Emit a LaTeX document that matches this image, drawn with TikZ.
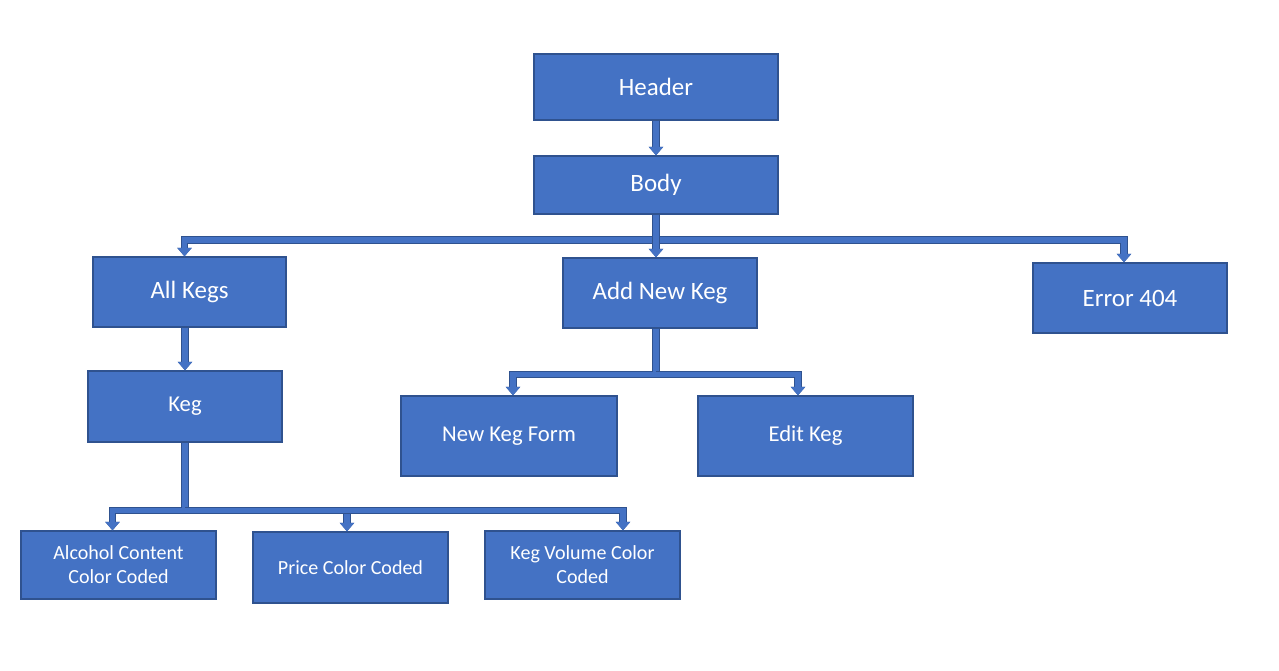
\documentclass[tikz,border=0pt]{standalone}
\usepackage{fontspec}
\setmainfont{Carlito}
\usetikzlibrary{arrows.meta}
\definecolor{boxblue}{HTML}{4472C4}
\definecolor{boxedge}{HTML}{2F528F}
\begin{document}
\begin{tikzpicture}[x=0.02cm, y=-0.02cm,
    box/.style={rectangle, draw=boxedge, line width=0.7pt, fill=boxblue, text=white, align=center, inner sep=2pt},
    big/.style={box, font=\fontsize{14.2}{17}\selectfont},
    mid/.style={box, font=\fontsize{12.9}{15.5}\selectfont},
    small/.style={box, font=\fontsize{11.4}{13.6}\selectfont, minimum width=3.9cm},
    conn/.style={draw=boxblue, line width=0.11cm, line join=miter,
        -{Triangle[width=0.28cm, length=0.17cm]},
        preaction={draw=boxedge, line width=0.145cm}}]
    \useasboundingbox (0,0) rectangle (1279,671);
    \node[big, minimum width=4.88cm, minimum height=1.32cm] (header) at (656,87) {Header};
    \node[big, minimum width=4.88cm, minimum height=1.16cm] (body) at (656,185) {Body};
    \node[big, minimum width=3.86cm, minimum height=1.4cm] (allkegs) at (189.5,292) {All Kegs};
    \node[big, minimum width=3.88cm, minimum height=1.4cm] (addkeg) at (660,293) {Add New Keg};
    \node[big, minimum width=3.88cm, minimum height=1.4cm] (error) at (1130,298) {Error 404};
    \node[mid, minimum width=3.88cm, minimum height=1.42cm] (keg) at (185,406.5) {Keg};
    \node[mid, minimum width=4.32cm, minimum height=1.6cm] (newform) at (509,436) {New Keg Form};
    \node[mid, minimum width=4.3cm, minimum height=1.6cm] (editkeg) at (805.5,436) {Edit Keg};
    \node[small, minimum height=1.36cm] (alcohol) at (118.5,565) {Alcohol Content\\Color Coded};
    \node[small, minimum height=1.42cm] (price) at (350.5,567.5) {Price Color Coded};
    \node[small, minimum height=1.36cm] (volume) at (582.5,565) {Keg Volume Color\\Coded};

    % header to body, body to the three pages
    \draw[conn] (header) -- (body);
    \coordinate (bus1) at (656,240);
    \draw[conn] (bus1) -| ([xshift=-0.1cm]allkegs.north);
    \draw[conn] (bus1) -| ([xshift=-0.12cm]error.north);
    \draw[conn] (body.south) -- (body.south |- addkeg.north);

    % all kegs
    \draw[conn] (keg.north |- allkegs.south) -- (keg.north);
    \draw[conn] (keg.south) -- ++(0,68) -| ([xshift=-0.12cm]alcohol.north);
    \draw[conn] (keg.south) ++(0,68) -| ([xshift=-0.07cm]price.north);
    \draw[conn] (keg.south) ++(0,68) -| ([xshift=0.81cm]volume.north);

    % add new keg
    \draw[conn] (addkeg.south -| body.south) -- ++(0,46) -| ([xshift=0.08cm]newform.north);
    \draw[conn] (addkeg.south -| body.south) ++(0,46) -| ([xshift=-0.15cm]editkeg.north);
\end{tikzpicture}
\end{document}
